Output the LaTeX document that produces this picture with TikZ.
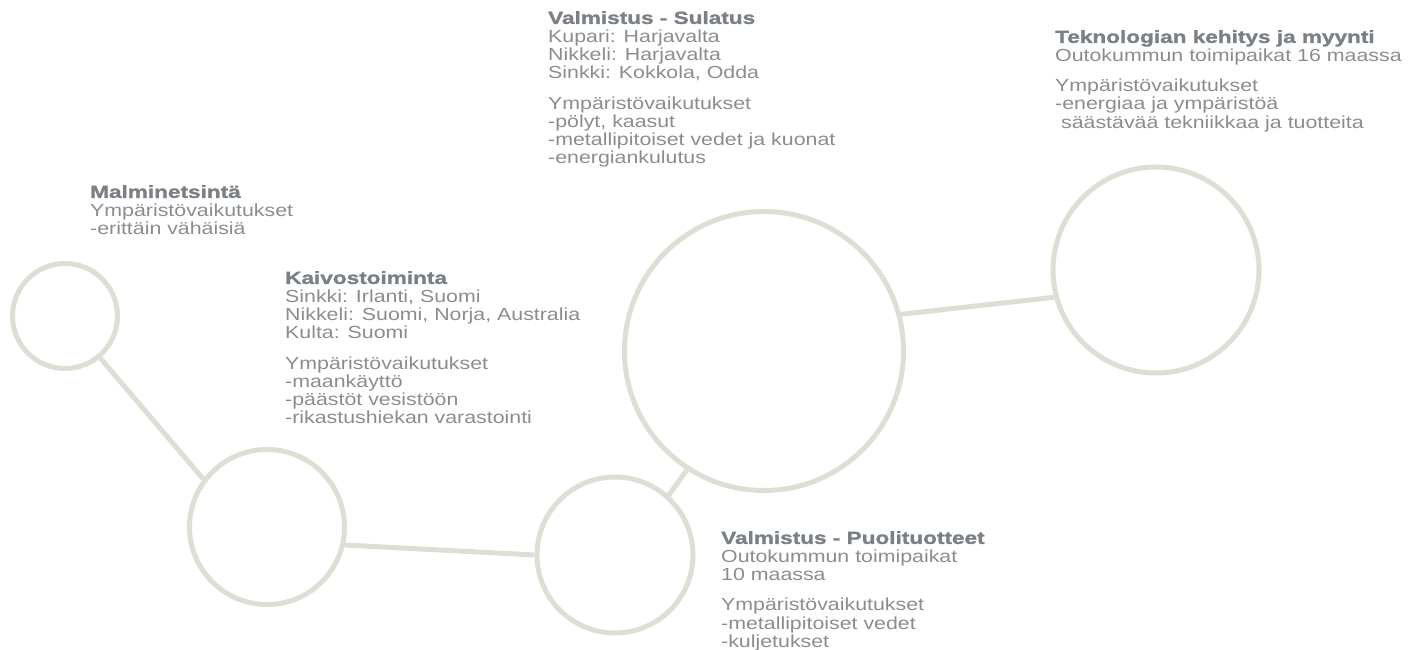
\documentclass[tikz,border=0pt]{standalone}
\usepackage{fontspec}
\setmainfont{Liberation Sans}
\newfontfamily\stagefont[FakeStretch=1.22]{Liberation Sans}
\newfontfamily\stagetitlefont[FakeStretch=1.29,FakeBold=1.5]{Liberation Sans}
\usepackage{xcolor}
\definecolor{ringgray}{HTML}{DEDED5}
\definecolor{titlegray}{HTML}{7A8085}
\definecolor{bodygray}{HTML}{8A8D90}

\begin{document}
\begin{tikzpicture}[x=1pt,y=-1pt,
	ring/.style={circle, draw=ringgray, line width=5pt, inner sep=0pt},
	link/.style={draw=ringgray, line width=5pt},
	infotext/.style={anchor=north west, align=left, inner sep=0pt, text=bodygray,
		font=\stagefont\fontsize{17.5}{18.3}\selectfont}]
				\newcommand{\mystagetitle}[1]{
					\textcolor{titlegray}{\stagetitlefont\bfseries #1}
				}%Page frame
				\useasboundingbox (0,0) rectangle (1428,650);
				%Circles of the chain, from left to right
				\node [ring, minimum size=105pt] (ring1) at (65,316) {};
				\node [ring, minimum size=155pt] (ring2) at (267,527) {};
				\node [ring, minimum size=156pt] (ring3) at (615,555) {};
				\node [ring, minimum size=279pt] (ring4) at (764,351) {};
				\node [ring, minimum size=206pt] (ring5) at (1156,270) {};
				%Links between the circles
				\draw [link] (ring1.-50) -- (ring2.143);
				\draw [link] (ring2.-13) -- (ring3.180);
				\draw [link] (ring3.48) -- (ring4.-123);
				\draw [link] (ring4.15) -- (ring5.195);
				%Texts of the stages
				\node [infotext] (text1) at (90,185) {\mystagetitle{Malminetsintä}\\
					Ympäristövaikutukset\\
					-erittäin vähäisiä};
				\node [infotext] (text2) at (285,271) {\mystagetitle{Kaivostoiminta}\\
					Sinkki: Irlanti, Suomi\\
					Nikkeli: Suomi, Norja, Australia\\
					Kulta: Suomi\\[12pt]
					Ympäristövaikutukset\\
					-maankäyttö\\
					-päästöt vesistöön\\
					-rikastushiekan varastointi};
				\node [infotext] (text3) at (548,11) {\mystagetitle{Valmistus - Sulatus}\\
					Kupari: Harjavalta\\
					Nikkeli: Harjavalta\\
					Sinkki: Kokkola, Odda\\[12pt]
					Ympäristövaikutukset\\
					-pölyt, kaasut\\
					-metallipitoiset vedet ja kuonat\\
					-energiankulutus};
				\node [infotext] (text4) at (721,531) {\mystagetitle{Valmistus - Puolituotteet}\\
					Outokummun toimipaikat\\
					10 maassa\\[12pt]
					Ympäristövaikutukset\\
					-metallipitoiset vedet\\
					-kuljetukset};
				\node [infotext] (text5) at (1055,30) {\mystagetitle{Teknologian kehitys ja myynti}\\
					Outokummun toimipaikat 16 maassa\\[12pt]
					Ympäristövaikutukset\\
					-energiaa ja ympäristöä\\
					\ säästävää tekniikkaa ja tuotteita};
				\end{tikzpicture}
\end{document}
